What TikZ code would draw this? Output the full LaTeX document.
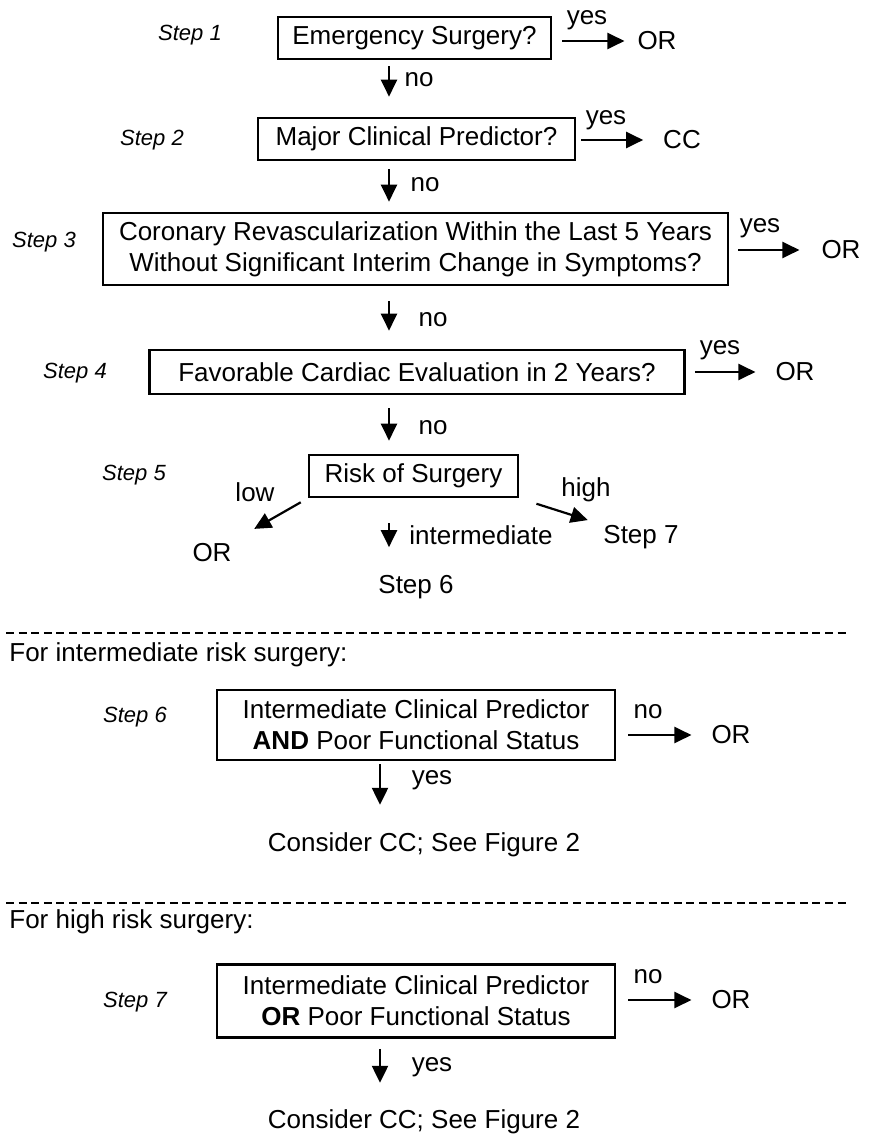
\documentclass[tikz,border=0pt]{standalone}
\usepackage{fontspec}
\setmainfont{Liberation Sans}
\usetikzlibrary{arrows.meta}

\begin{document}
\begin{tikzpicture}[x=0.5pt,y=-0.5pt,
  box/.style={draw,line width=1.3pt,align=center,inner sep=0pt,font=\fontsize{13}{15.5}\selectfont},
  txt/.style={font=\fontsize{13}{15.5}\selectfont},
  steplbl/.style={font=\fontsize{11}{13}\selectfont\itshape},
  arr/.style={line width=1.1pt,-{Triangle[length=8.5pt,width=8pt]}},
  dashline/.style={line width=0.6pt,dash pattern=on 4pt off 2.3pt}]
  \useasboundingbox (0,0) rectangle (875,1138);
  \coordinate (spine) at (389,0);
  \coordinate (spineB) at (380,0);

  \path (414.5,38) node[box,minimum width=136.5pt,minimum height=21pt] (emerg) {Emergency Surgery?};
  \path (416.5,139) node[box,minimum width=158.5pt,minimum height=21pt] (major) {Major Clinical Predictor?};
  \path (415.5,249) node[box,minimum width=312.5pt,minimum height=36pt] (revasc)
    {Coronary Revascularization Within the Last 5 Years\\Without Significant Interim Change in Symptoms?};
  \path (417,372) node[box,minimum width=267.5pt,minimum height=22pt] (favor) {Favorable Cardiac Evaluation in 2 Years?};
  \path (413.5,476) node[box,minimum width=104.5pt,minimum height=21pt] (risk) {Risk of Surgery};
  \path (416,725) node[box,minimum width=199pt,minimum height=35pt] (interSix)
    {Intermediate Clinical Predictor\\\textbf{AND} Poor Functional Status};
  \path (416,1001) node[box,minimum width=199pt,minimum height=36.5pt] (interSeven)
    {Intermediate Clinical Predictor\\\textbf{OR} Poor Functional Status};

  \path (190,35) node[steplbl] (stepA) {Step 1};
  \path (152,140) node[steplbl] (stepB) {Step 2};
  \path (44,242) node[steplbl] (stepC) {Step 3};
  \path (75,373) node[steplbl] (stepD) {Step 4};
  \path (134,475) node[steplbl] (stepE) {Step 5};
  \path (135,717) node[steplbl] (stepF) {Step 6};
  \path (135,1002) node[steplbl] (stepG) {Step 7};

  \path (587,20) node[txt] (yesA) {yes};
  \path (657,41) node[txt] (orA) {OR};
  \path (606,120) node[txt] (yesB) {yes};
  \path (682,140) node[txt] (ccB) {CC};
  \path (760,228) node[txt] (yesC) {yes};
  \path (841,250) node[txt] (orC) {OR};
  \path (720,350) node[txt] (yesD) {yes};
  \path (795,372) node[txt] (orD) {OR};

  \path (419,80) node[txt] (noA) {no};
  \path (425,185) node[txt] (noB) {no};
  \path (433,320) node[txt] (noC) {no};
  \path (433,428) node[txt] (noD) {no};

  \path (255,492) node[txt] (low) {low};
  \path (212,553) node[txt] (orLow) {OR};
  \path (481,535) node[txt] (inter) {intermediate};
  \path (416,587) node[txt] (stepSix) {Step 6};
  \path (586,490) node[txt] (high) {high};
  \path (641,537) node[txt] (stepSeven) {Step 7};

  \draw[dashline] (6,633) -- (848,633);
  \path (9,655) node[txt,anchor=west,inner sep=0pt] (forInter) {For intermediate risk surgery:};
  \path (648,712) node[txt] (noF) {no};
  \path (731,735) node[txt] (orF) {OR};
  \path (432,780) node[txt] (yesF) {yes};
  \path (424,845) node[txt] (consSix) {Consider CC; See Figure 2};

  \draw[dashline] (6,903) -- (848,903);
  \path (9,922) node[txt,anchor=west,inner sep=0pt] (forHigh) {For high risk surgery:};
  \path (648,977) node[txt] (noG) {no};
  \path (731,1000) node[txt] (orG) {OR};
  \path (432,1067) node[txt] (yesG) {yes};
  \path (424,1122) node[txt] (consSeven) {Consider CC; See Figure 2};

  \draw[arr,shorten <=5pt,shorten >=3pt] (emerg.east |- orA.west) -- (orA.west);
  \draw[arr,shorten <=2.5pt,shorten >=6.5pt] (major.east |- ccB.west) -- (ccB.west);
  \draw[arr,shorten <=4.5pt,shorten >=7.5pt] (revasc.east |- orC.west) -- (orC.west);
  \draw[arr,shorten <=4.5pt,shorten >=6.5pt] (favor.east |- orD.west) -- (orD.west);
  \draw[arr,shorten <=6pt,shorten >=6.5pt] (interSix.east |- orF.west) -- (orF.west);
  \draw[arr,shorten <=6pt,shorten >=6.5pt] (interSeven.east |- orG.west) -- (orG.west);

  \draw[arr,shorten <=3pt,shorten >=10pt] (spine |- emerg.south) -- (spine |- major.north);
  \draw[arr,shorten <=4pt,shorten >=5pt] (spine |- major.south) -- (spine |- revasc.north);
  \draw[arr,shorten <=7.5pt,shorten >=9pt] (spine |- revasc.south) -- (spine |- favor.north);
  \draw[arr,shorten <=6.5pt,shorten >=6.5pt] (spine |- favor.south) -- (spine |- risk.north);
  \draw[arr,shorten <=12.5pt,shorten >=10.5pt] (spine |- risk.south) -- (spine |- stepSix.north);
  \draw[arr,shorten <=4pt,shorten >=9pt] (risk.south west) -- (orLow);
  \draw[arr,shorten <=9pt,shorten >=4.5pt] (risk.south east) -- (stepSeven);
  \draw[arr,shorten <=1.5pt,shorten >=10.5pt] (spineB |- interSix.south) -- (spineB |- consSix.north);
  \draw[arr,shorten <=5pt,shorten >=10pt] (spineB |- interSeven.south) -- (spineB |- consSeven.north);
\end{tikzpicture}
\end{document}
